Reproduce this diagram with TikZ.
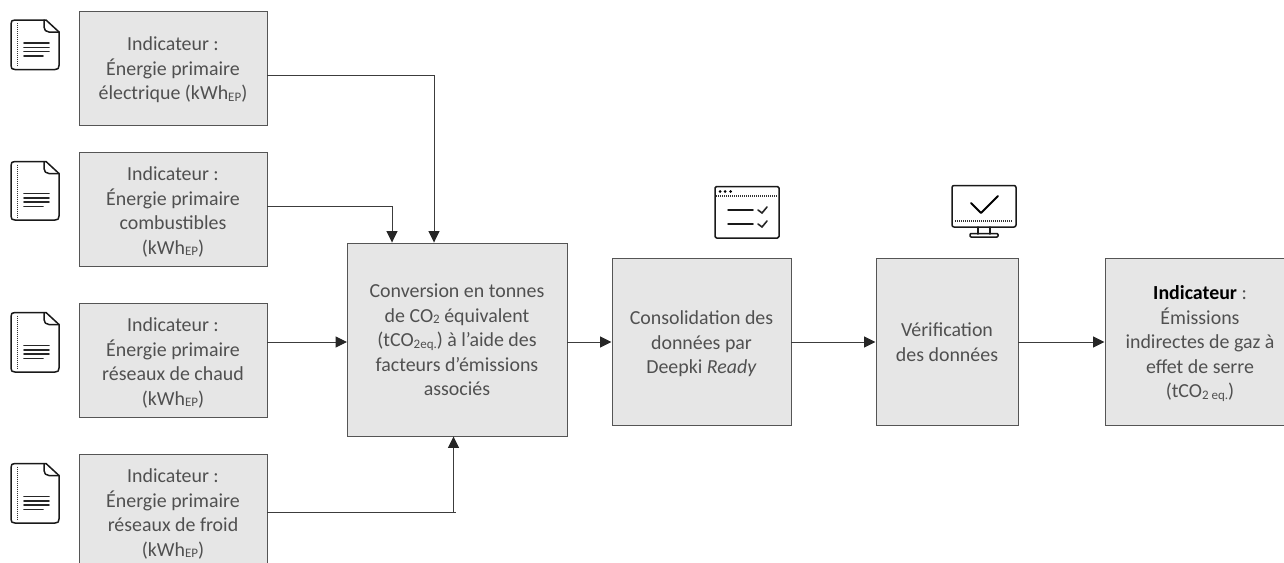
\documentclass[tikz,border=0pt]{standalone}
\usepackage{fontspec}
\setmainfont{Carlito}
\usetikzlibrary{arrows.meta}
\definecolor{boxfill}{HTML}{E6E6E6}
\definecolor{boxline}{HTML}{555555}
\definecolor{txt}{HTML}{505050}
\newcommand{\lowtxt}[1]{\raisebox{-0.15ex}{\fontsize{13}{13}\selectfont #1}}
\newcommand{\tx}[1]{\rule{0pt}{\dimexpr13.5pt+2\dimexpr #1pt\relax\relax}}
\tikzset{
  x=1pt,y=-1pt,
  box/.style={draw=boxline,fill=boxfill,line width=0.9pt,inner sep=0pt,text=txt,align=center,
    font=\fontsize{19.9}{24.5}\selectfont},
  link/.style={draw=boxline!70!black,line width=1pt,-{Triangle[length=11.5pt,width=11pt,color=black!85]}},
  icon/.style={draw=black!90,line width=1.5pt,line join=round,line cap=round},
  thick icon/.style={draw=black!85,line width=1.6pt,line cap=round},
  dots/.style={draw=black!80,line width=1.1pt,dash pattern=on 1pt off 1pt},
}
% doc icon: top y #1, bottom y #2
\newcommand{\docicon}[2]{%
  \draw[icon] (44,#1) -- (15,#1) .. controls (12,#1) and (11,#1+1) .. (11,#1+4) -- (11,#2-4) .. controls (11,#2-1) and (12,#2) .. (15,#2) -- (55,#2) .. controls (58,#2) and (59,#2-1) .. (59,#2-4) -- (59,#1+12) -- (46,#1) -- (44,#1);
  \draw[icon] (44,#1) -- (44,#1+7) .. controls (44,#1+10) and (46,#1+12) .. (49,#1+12) -- (59,#1+12);
  \draw[dots] (17.5,#1+3) -- (17.5,#2-3);
  \draw[thick icon] (24,#2-26.5) -- (49,#2-26.5) (24,#2-22) -- (49,#2-22) (24,#2-18) -- (49,#2-18) (24,#2-13.5) -- (43,#2-13.5);
}
\begin{document}
\begin{tikzpicture}
\useasboundingbox (0,0) rectangle (1284,562);
\clip (0,0) rectangle (1284,562);
\node[box,minimum width=188pt,minimum height=114pt] (b1) at (173,68) {\tx{2}Indicateur :\\Énergie primaire\\électrique (kWh\lowtxt{EP})};
\node[box,minimum width=188pt,minimum height=114pt] (b2) at (173,209) {\tx{3}Indicateur :\\Énergie primaire\\combustibles\\(kWh\lowtxt{EP})};
\node[box,minimum width=188pt,minimum height=114pt] (b3) at (173,360.5) {\tx{2.5}Indicateur :\\Énergie primaire\\réseaux de chaud\\(kWh\lowtxt{EP})};
\node[box,minimum width=188pt,minimum height=114pt] (b4) at (173,511) {\tx{3}Indicateur :\\Énergie primaire\\réseaux de froid\\(kWh\lowtxt{EP})};
\node[box,minimum width=220pt,minimum height=193pt] (conv) at (457,339.5) {\tx{0.5}Conversion en tonnes\\de CO\lowtxt{2} équivalent\\(tCO\lowtxt{2eq.}) à l’aide des\\facteurs d’émissions\\associés};
\node[box,minimum width=179pt,minimum height=167pt] (cons) at (701.5,341.5) {\tx{2.5}Consolidation des\\données par\\Deepki \textit{Ready}};
\node[box,minimum width=142pt,minimum height=167pt] (verif) at (947,341.5) {\tx{1}Vérification\\des données};
\node[box,minimum width=190pt,minimum height=167pt] (ind) at (1200,341.5) {\tx{2.5}\textbf{\textcolor{black}{Indicateur}} :\\Émissions\\indirectes de gaz à\\effet de serre\\(tCO\lowtxt{2 eq.})};
\coordinate (j1) at (434,75);
\coordinate (j2) at (392,206);
\coordinate (j4) at (453.5,512);
\coordinate (j4end) at (455.5,512);
\draw[link] (b1.east |- j1) -- (j1) -- (j1 |- conv.north);
\draw[link] (b2.east |- j2) -- (j2) -- (j2 |- conv.north);
\draw[link] (b3.east |- conv.center) ++(0,2.5) -- (347,342);
\draw[link,-] (b4.east |- j4) -- (j4end);
\draw[link] (j4) -- (j4 |- conv.south);
\draw[link] (conv.east |- cons.center) ++(0,0.5) -- (611.5,342);
\draw[link] (cons.east |- verif.center) ++(0,0.5) -- (875.5,342);
\draw[link] (verif.east |- ind.center) ++(0,0.5) -- (1104.5,342);
% document icons
\docicon{20}{69.5}
\docicon{161.5}{220}
\docicon{312.5}{372}
\docicon{463.5}{523}
% checklist window
\draw[icon,rounded corners=1.5pt] (715,186.5) rectangle (779,238);
\draw[dots] (716,196) -- (778,196);
\fill[black] (720,191.5) circle (1.5pt) (725,191.5) circle (1.5pt) (730.5,191.5) circle (1.5pt);
\draw[icon] (728,210) -- (753,210) (728,224) -- (753,224);
\draw[thick icon] (758,210) -- (762,213) -- (767,207) (758,224) -- (762,227) -- (767,221);
% monitor
\draw[icon,rounded corners=2pt] (952,185.5) rectangle (1016,227);
\draw[dots] (955,221) -- (1013,221);
\draw[draw=black,line width=1.9pt,line cap=round,line join=round] (971,203) -- (981,213) -- (998,196);
\draw[icon] (978,227) -- (978,234) (990,227) -- (990,234);
\draw[icon,rounded corners=1pt] (970,233.5) rectangle (998,237);
\end{tikzpicture}
\end{document}
